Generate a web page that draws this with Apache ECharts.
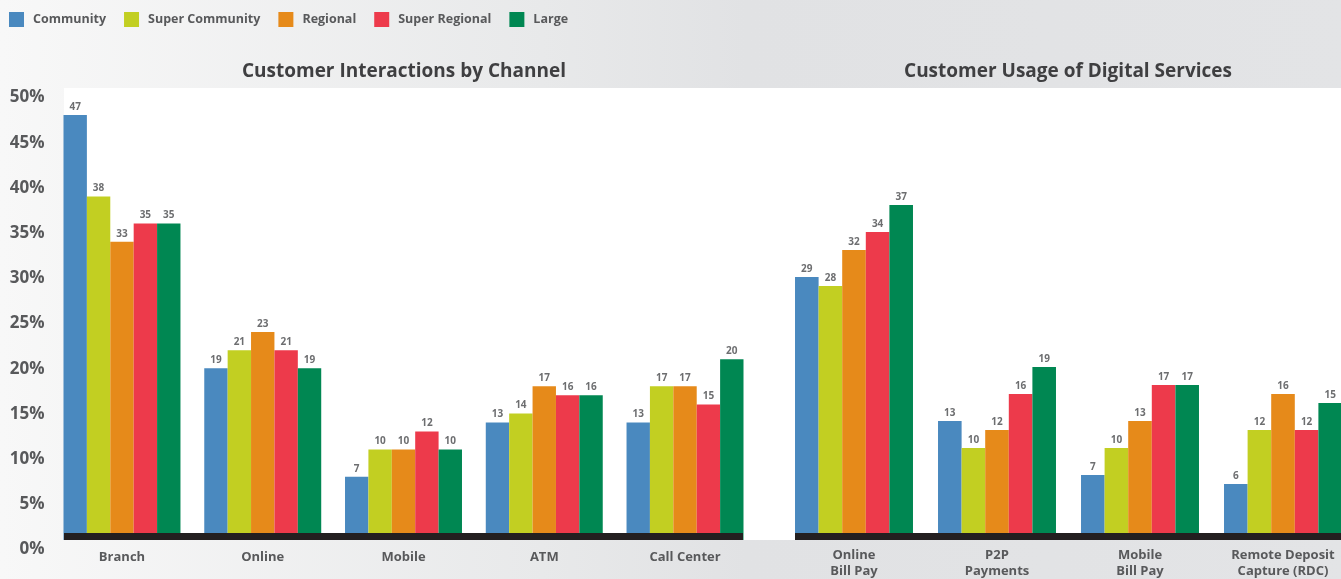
<!DOCTYPE html>
<html>
<head>
<meta charset="utf-8">
<script src="https://cdn.jsdelivr.net/npm/echarts@6/dist/echarts.min.js"></script>
<style>
  html, body { margin: 0; padding: 0; overflow: hidden; }
  /* the last bar group runs past the right edge of the window */
  #chart { width: 1356px; height: 579px; }
</style>
</head>
<body>
<div id="chart"></div>
<script>
// Segment names and colours
const segments = ['Community', 'Super Community', 'Regional', 'Super Regional', 'Large'];
const segmentColors = ['#4a89bf', '#c2cf22', '#e68a1a', '#ed3a4b', '#008752'];

// Left panel: customer interactions by channel (%)
const channelCategories = ['Branch', 'Online', 'Mobile', 'ATM', 'Call Center'];
const channelCommunity = [47, 19, 7, 13, 13];
const channelSuperCommunity = [38, 21, 10, 14, 17];
const channelRegional = [33, 23, 10, 17, 17];
const channelSuperRegional = [35, 21, 12, 16, 15];
const channelLarge = [35, 19, 10, 16, 20];

// Right panel: customer usage of digital services (%)
const digitalCategories = ['Online\nBill Pay', 'P2P\nPayments', 'Mobile\nBill Pay', 'Remote Deposit\nCapture (RDC)'];
const digitalCommunity = [29, 13, 7, 6];
const digitalSuperCommunity = [28, 10, 10, 12];
const digitalRegional = [32, 12, 13, 16];
const digitalSuperRegional = [34, 16, 17, 12];
const digitalLarge = [37, 19, 17, 15];

// Y axis range and step (percent)
const yMin = 0, yMax = 50, yStep = 5;

const channelValues = [channelCommunity, channelSuperCommunity, channelRegional, channelSuperRegional, channelLarge];
const digitalValues = [digitalCommunity, digitalSuperCommunity, digitalRegional, digitalSuperRegional, digitalLarge];

const FONT = '"Open Sans", "DejaVu Sans", sans-serif';
const textGray = '#58595b';

function barSeries(name, color, data, gridIdx, catGap) {
  return {
    name: name,
    type: 'bar',
    xAxisIndex: gridIdx,
    yAxisIndex: gridIdx,
    data: data,
    barGap: '0%',
    barCategoryGap: catGap,
    itemStyle: { color: color },
    label: {
      show: true,
      position: 'top',
      distance: 3,
      fontFamily: FONT,
      fontSize: 10,
      fontWeight: 'bold',
      color: '#6d6e70'
    },
    z: 2
  };
}

const series = [];
segments.forEach((s, i) => series.push(barSeries(s, segmentColors[i], channelValues[i], 0, '16.9%')));
segments.forEach((s, i) => series.push(barSeries(s, segmentColors[i], digitalValues[i], 1, '17.5%')));

const catAxisCommon = {
  type: 'category',
  axisLine: { show: false },
  axisTick: { show: false },
  axisLabel: {
    margin: 9,
    fontFamily: FONT,
    fontSize: 13,
    fontWeight: 'bold',
    color: textGray,
    lineHeight: 16,
    interval: 0
  }
};

const chart = echarts.init(document.getElementById('chart'), null, { renderer: 'canvas' });

chart.setOption({
  animation: false,
  textStyle: { fontFamily: FONT },
  graphic: [
    {
      type: 'rect', z: -100, silent: true,
      shape: { x: 0, y: 0, width: 1356, height: 579 },
      style: {
        fill: new echarts.graphic.LinearGradient(0, 0, 1, 0, [
          { offset: 0, color: '#f8f8f8' },
          { offset: 0.4, color: '#e8e9ea' },
          { offset: 0.55, color: '#e1e2e4' },
          { offset: 1, color: '#e3e4e6' }
        ])
      }
    },
    // white plotting panel
    { type: 'rect', z: -50, silent: true, shape: { x: 64, y: 88, width: 1292, height: 452 }, style: { fill: '#ffffff' } },
    // dark base bands under each group of bars
    { type: 'rect', z: 50, silent: true, shape: { x: 64, y: 533, width: 679, height: 7 }, style: { fill: '#231f20' } },
    { type: 'rect', z: 50, silent: true, shape: { x: 795, y: 533, width: 561, height: 7 }, style: { fill: '#231f20' } }
  ],
  title: [
    {
      text: 'Customer Interactions by Channel',
      left: 404, top: 62, textAlign: 'center', padding: 0,
      textStyle: { fontFamily: FONT, fontSize: 19, fontWeight: 'bold', color: '#3f3f41' }
    },
    {
      text: 'Customer Usage of Digital Services',
      left: 1068, top: 62, textAlign: 'center', padding: 0,
      textStyle: { fontFamily: FONT, fontSize: 19, fontWeight: 'bold', color: '#3f3f41' }
    }
  ],
  legend: {
    data: segments,
    left: 9, top: 12, padding: 0,
    icon: 'rect',
    itemWidth: 15, itemHeight: 15,
    itemGap: 18,
    textStyle: { fontFamily: FONT, fontSize: 12.5, fontWeight: 'bold', color: textGray, padding: [0, 0, 0, 4] }
  },
  grid: [
    { left: 51.6, width: 703.8, top: 88, bottom: 39 },
    { left: 782.5, width: 572, top: 88, bottom: 39 }
  ],
  xAxis: [
    Object.assign({}, catAxisCommon, { gridIndex: 0, data: channelCategories }),
    Object.assign({}, catAxisCommon, { gridIndex: 1, data: digitalCategories })
  ],
  yAxis: [
    {
      type: 'value', gridIndex: 0, min: yMin, max: yMax, interval: yStep,
      axisLine: { show: false }, axisTick: { show: false }, splitLine: { show: false },
      axisLabel: {
        formatter: '{value}%',
        margin: 7,
        verticalAlign: 'top',
        padding: [1, 0, 0, 0],
        fontFamily: FONT, fontSize: 17, fontWeight: 'bold', color: textGray
      }
    },
    {
      type: 'value', gridIndex: 1, min: yMin, max: yMax, interval: yStep,
      show: false, splitLine: { show: false }
    }
  ],
  series: series
});
</script>
</body>
</html>
